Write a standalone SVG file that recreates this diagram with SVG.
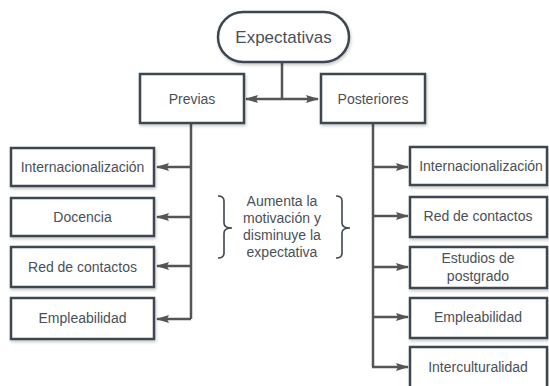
<svg xmlns="http://www.w3.org/2000/svg" width="549" height="386" viewBox="0 0 549 386">
<style>
.box{fill:#fff;stroke:#3e4651;stroke-width:2.5;filter:url(#sh)}
.t{font-family:"Liberation Sans",Arial,sans-serif;font-size:14px;fill:#4a5059;text-anchor:middle}
.c{fill:none;stroke:#555;stroke-width:2.5}
.br{fill:none;stroke:#3e4651;stroke-width:1.6}
</style>
<defs>
<filter id="sh" x="-10%" y="-10%" width="125%" height="135%">
<feDropShadow dx="1" dy="2" stdDeviation="1.5" flood-color="#000" flood-opacity="0.2"/>
</filter>
<marker id="ar" viewBox="0 0 13 9" refX="12" refY="4.5" markerWidth="13" markerHeight="9" orient="auto-start-reverse" markerUnits="userSpaceOnUse">
<path d="M0,0.5 L13,4.5 L0,8.5 L2,4.5 z" fill="#555"/>
</marker>
</defs>
<rect width="549" height="386" fill="#fff"/>
<g id="connectors">
<path class="c" d="M282,62 V99"/>
<path class="c" d="M246,99 H318" marker-start="url(#ar)" marker-end="url(#ar)"/>
<path class="c" d="M191,123 V319"/>
<path class="c" d="M191,167 H157" marker-end="url(#ar)"/>
<path class="c" d="M191,217 H157" marker-end="url(#ar)"/>
<path class="c" d="M191,266 H157" marker-end="url(#ar)"/>
<path class="c" d="M191,319 H157" marker-end="url(#ar)"/>
<path class="c" d="M373,123 V367 "/>
<path class="c" d="M373,167 H408" marker-end="url(#ar)"/>
<path class="c" d="M373,216 H408" marker-end="url(#ar)"/>
<path class="c" d="M373,267 H408" marker-end="url(#ar)"/>
<path class="c" d="M373,317 H408" marker-end="url(#ar)"/>
<path class="c" d="M372,367 H408" marker-end="url(#ar)"/>
</g>
<g id="expectativas">
<rect class="box" x="218" y="12" width="131" height="50" rx="25"/>
<text class="t" x="283.5" y="43" style="font-size:17px">Expectativas</text>
</g>
<g id="previas">
<rect class="box" x="140" y="74" width="104" height="49"/>
<text class="t" x="192" y="103.5">Previas</text>
</g>
<g id="posteriores">
<rect class="box" x="321" y="74" width="104" height="49"/>
<text class="t" x="373" y="103.5">Posteriores</text>
</g>
<g id="l1"><rect class="box" x="11" y="148" width="143" height="38"/><text class="t" x="82.5" y="171.5">Internacionalización</text></g>
<g id="l2"><rect class="box" x="11" y="198" width="143" height="38"/><text class="t" x="82.5" y="221.5">Docencia</text></g>
<g id="l3"><rect class="box" x="11" y="247" width="143" height="40"/><text class="t" x="82.5" y="271.5">Red de contactos</text></g>
<g id="l4"><rect class="box" x="11" y="298" width="143" height="41"/><text class="t" x="82.5" y="322.5">Empleabilidad</text></g>
<g id="r1"><rect class="box" x="410" y="147" width="137" height="38"/><text class="t" x="481" y="170.5">Internacionalización</text></g>
<g id="r2"><rect class="box" x="410" y="197" width="137" height="40"/><text class="t" x="478" y="220.5">Red de contactos</text></g>
<g id="r3"><rect class="box" x="410" y="247" width="137" height="41"/><text class="t" x="478" y="263">Estudios de</text><text class="t" x="478" y="280.5">postgrado</text></g>
<g id="r4"><rect class="box" x="410" y="298" width="137" height="40"/><text class="t" x="478" y="321.5">Empleabilidad</text></g>
<g id="r5"><rect class="box" x="410" y="347" width="137" height="45"/><text class="t" x="478" y="371.5">Interculturalidad</text></g>
<g id="nota">
<path class="br" d="M218,196 Q224,196 224,201 V223 Q224,228 232,228 Q224,228 224,233 V253 Q224,258 218,258"/>
<path class="br" d="M336,196 Q342,196 342,201 V223 Q342,228 350,228 Q342,228 342,233 V253 Q342,258 336,258"/>
<text class="t" x="282" y="206">Aumenta la</text>
<text class="t" x="282" y="223">motivación y</text>
<text class="t" x="282" y="240">disminuye la</text>
<text class="t" x="282" y="257">expectativa</text>
</g>
</svg>
